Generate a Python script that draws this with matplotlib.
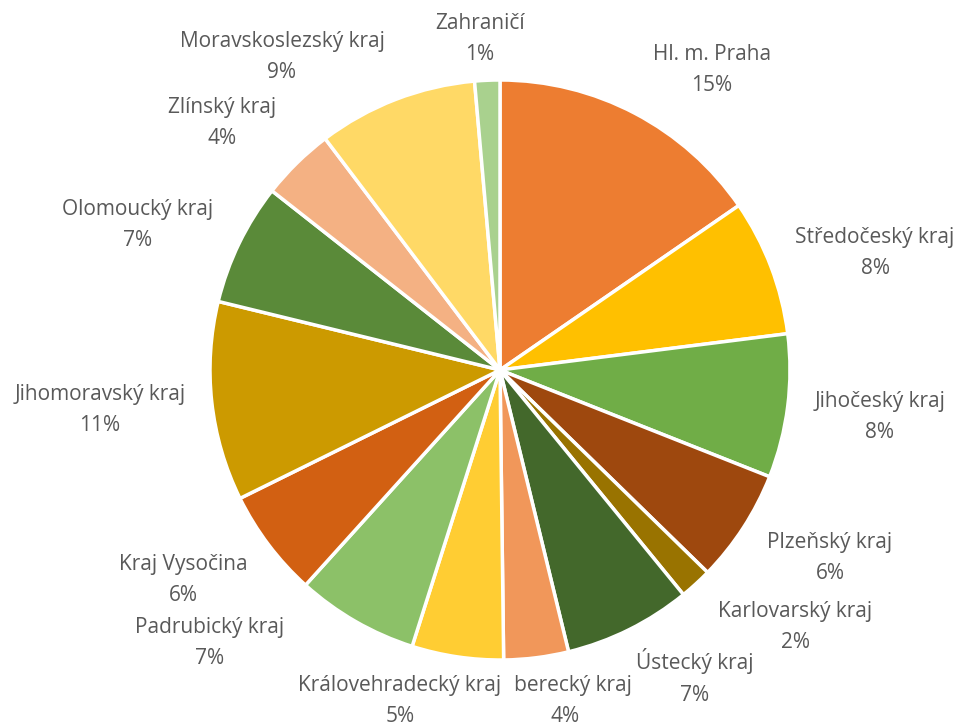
import numpy as np
import matplotlib
matplotlib.use("Agg")
import matplotlib.pyplot as plt

kraje = ["Hl. m. Praha", "Středočeský kraj", "Jihočeský kraj", "Plzeňský kraj",
         "Karlovarský kraj", "Ústecký kraj", "Liberecký kraj", "Královehradecký kraj",
         "Padrubický kraj", "Kraj Vysočina", "Jihomoravský kraj", "Olomoucký kraj",
         "Zlínský kraj", "Moravskoslezský kraj", "Zahraničí"]
podil = [15.4, 7.6, 8.0, 6.3, 1.8, 7.1, 3.6, 5.1, 6.8, 6.0, 11.1, 6.8, 4.1, 8.9, 1.4]
barvy = ["#ED7D31", "#FFC000", "#70AD47", "#9E480E", "#997300", "#43682B", "#F1975A",
         "#FFCD33", "#8CC168", "#D26012", "#CC9A00", "#5A8A39", "#F4B183", "#FFD966",
         "#A9D18E"]

# label block centres in pixels (x, y from top)
popisky_px = [(712, 70), (875, 253), (880, 417), (830, 558), (795, 627), (695, 677),
              (565, 701), (400, 701), (210, 643), (183, 580), (100, 410), (138, 225),
              (222, 123), (282, 57), (480, 39)]

W, H = 960, 727
cx, cy, R = 500, 370, 290

fig = plt.figure(figsize=(W / 100, H / 100), dpi=100)
ax = fig.add_axes([0, 0, 1, 1])
ax.axis("off")

ax.pie(podil, colors=barvy, startangle=90, counterclock=False, radius=1,
       wedgeprops=dict(edgecolor="white", linewidth=2.5))
ax.set_xlim(-cx / R, (W - cx) / R)
ax.set_ylim(-(H - cy) / R, cy / R)
ax.set_aspect("auto")

total = sum(podil)
for i, (nazev, p) in enumerate(zip(kraje, podil)):
    x = (popisky_px[i][0] - cx) / R
    y = (cy - popisky_px[i][1]) / R
    pct = "%d%%" % round(100 * p / total)
    kw = {}
    if nazev == "Královehradecký kraj":
        # v originale prekryva zacatek popisku Libereckeho kraje
        kw = dict(bbox=dict(facecolor="white", edgecolor="none", pad=9.5), zorder=5)
    ax.text(x, y, nazev + "\n" + pct, ha="center", va="center", fontsize=15,
            color="#595959", family="Open Sans", linespacing=1.67, **kw)

fig.savefig("out.png", dpi=100)
